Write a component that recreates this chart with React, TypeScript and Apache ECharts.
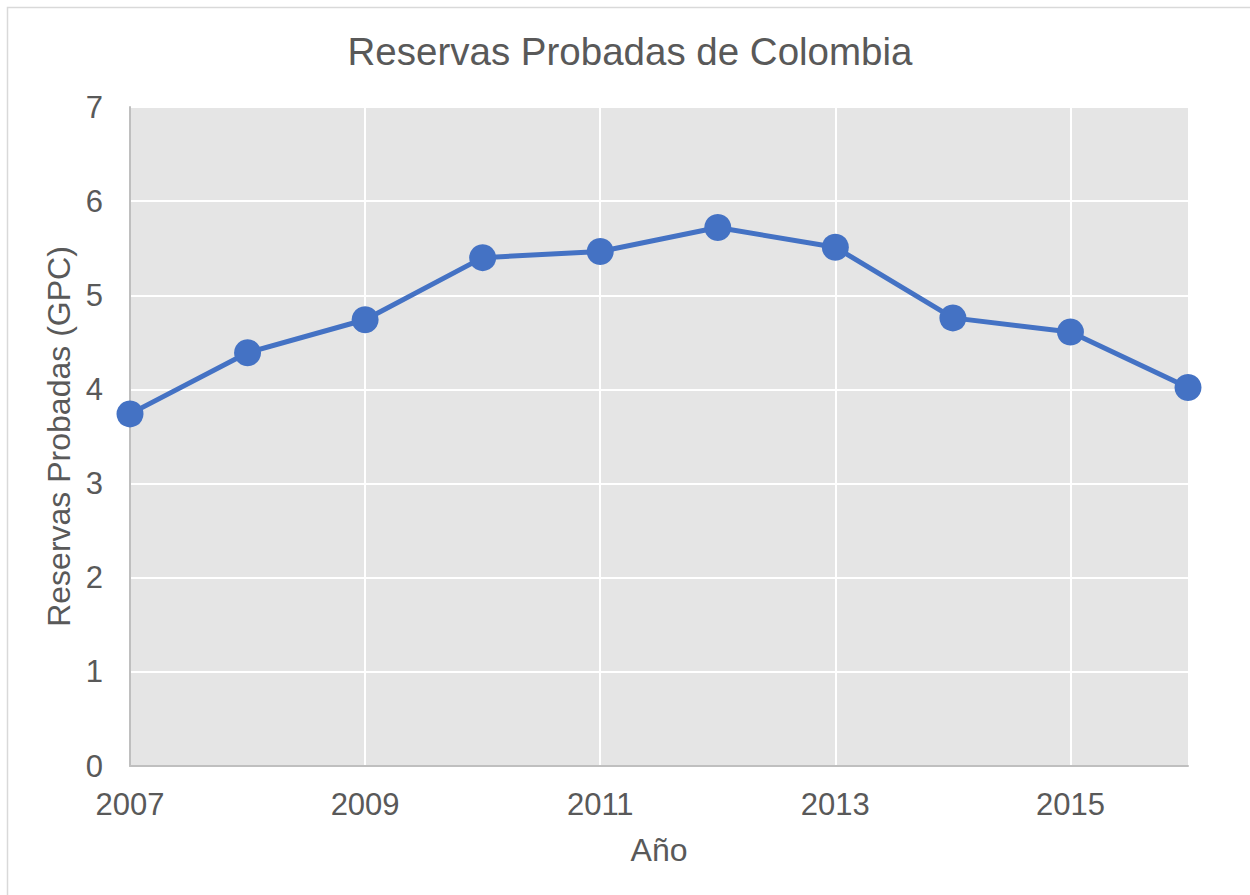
import React, { useEffect, useRef } from "react";
import * as echarts from "echarts";

const years = ["2007", "2008", "2009", "2010", "2011", "2012", "2013", "2014", "2015", "2016"];
const reservas = [3.74, 4.39, 4.74, 5.4, 5.465, 5.72, 5.51, 4.76, 4.61, 4.02];
const chartTitle = "Reservas Probadas de Colombia";
const xName = "Año";
const yName = "Reservas Probadas (GPC)";

const FONT = "Liberation Sans, Arial, Helvetica, sans-serif";
const TXT = "#595959";

export default function App() {
  const ref = useRef<HTMLDivElement>(null);
  useEffect(() => {
    if (!ref.current) return;
    const chart = echarts.init(ref.current, null, { renderer: "svg" });
    chart.setOption({
      animation: false,
      backgroundColor: "#ffffff",
      textStyle: { fontFamily: FONT, color: TXT },
      graphic: [
        {
          type: "rect",
          silent: true,
          shape: { x: 7.5, y: 7.5, width: 1300, height: 1000 },
          style: { fill: "none", stroke: "#d9d9d9", lineWidth: 1.5 },
        },
      ],
      title: {
        text: chartTitle,
        left: 625,
        textAlign: "center",
        top: 27,
        textStyle: { fontFamily: FONT, fontSize: 38.5, fontWeight: "normal", color: TXT },
      },
      grid: {
        left: 130,
        right: 62,
        top: 107,
        bottom: 129,
        show: true,
        backgroundColor: "#e5e5e5",
        borderWidth: 0,
      },
      xAxis: {
        type: "category",
        data: years,
        boundaryGap: false,
        name: xName,
        nameLocation: "middle",
        nameGap: 68,
        nameTextStyle: { fontFamily: FONT, fontSize: 32, color: TXT },
        axisLine: { show: true, lineStyle: { color: "#bfbfbf", width: 2 } },
        axisTick: { show: false },
        axisLabel: {
          interval: 1,
          fontFamily: FONT,
          fontSize: 31,
          color: TXT,
          margin: 23,
        },
        splitLine: { show: true, interval: 1, lineStyle: { color: "#ffffff", width: 2 } },
      },
      yAxis: {
        type: "value",
        min: 0,
        max: 7,
        interval: 1,
        name: yName,
        nameLocation: "middle",
        nameGap: 52,
        nameTextStyle: { fontFamily: FONT, fontSize: 32, color: TXT },
        axisLine: { show: true, lineStyle: { color: "#bfbfbf", width: 2 } },
        axisTick: { show: false },
        axisLabel: { fontFamily: FONT, fontSize: 31, color: TXT, margin: 27 },
        splitLine: { show: true, lineStyle: { color: "#ffffff", width: 2 } },
      },
      series: [
        {
          type: "line",
          data: reservas,
          symbol: "circle",
          symbolSize: 27,
          itemStyle: { color: "#4472c4" },
          lineStyle: { color: "#4472c4", width: 5 },
          z: 5,
        },
      ],
    });
    return () => chart.dispose();
  }, []);
  return (
    <div
      ref={ref}
      style={{ position: "fixed", left: 0, top: 0, width: 1250, height: 895 }}
    />
  );
}
